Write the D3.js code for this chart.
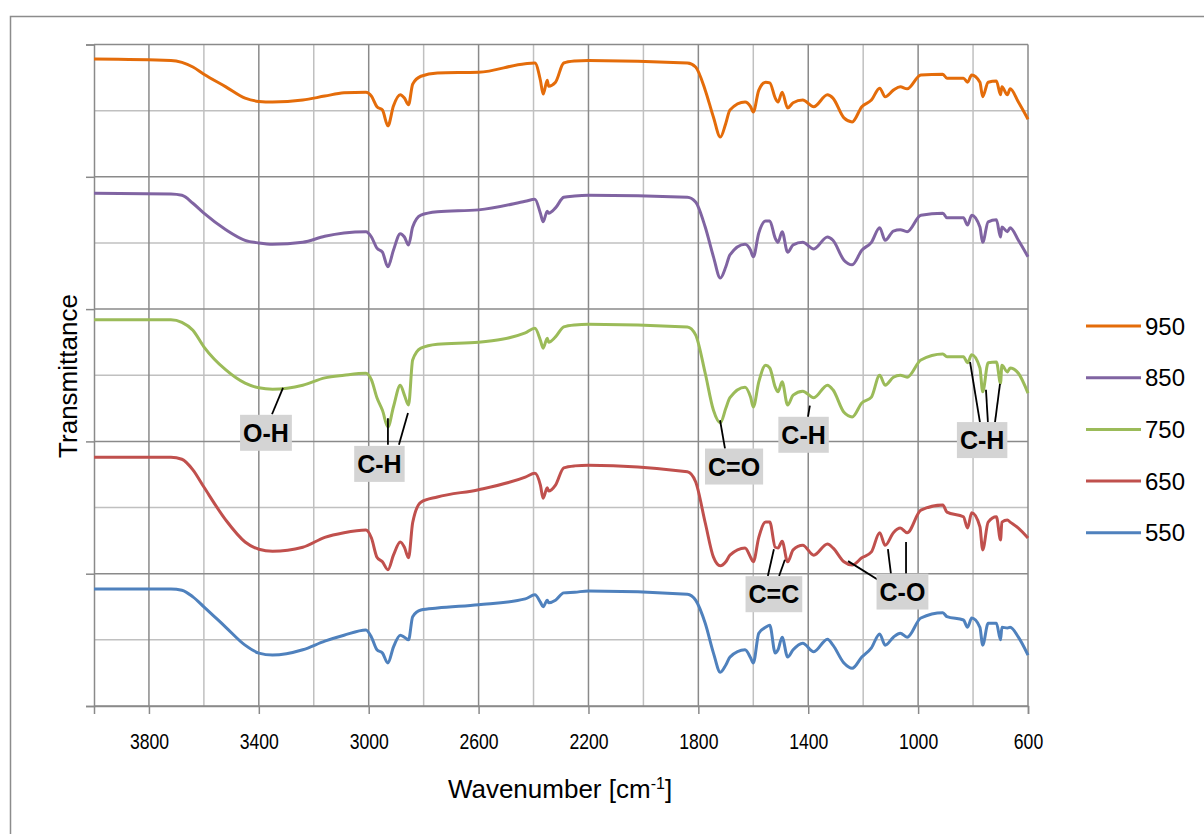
<!DOCTYPE html>
<html>
<head>
<meta charset="utf-8">
<script src="https://cdn.jsdelivr.net/npm/d3@7"></script>
<style>
  body { margin: 0; background: #fff; }
  text { font-family: "Liberation Sans", Arial, sans-serif; }
</style>
</head>
<body>
<svg id="chart" width="1204" height="834"></svg>
<script>

// wavenumbers shared by all spectra (cm-1)
var wavenumbers = [4000, 3720, 3680, 3640, 3600, 3520, 3450, 3400, 3350, 3240, 3160, 3090, 3010, 2990, 2970, 2950, 2930,
  2910, 2885, 2870, 2855, 2840, 2810, 2750, 2600, 2430, 2395, 2375, 2365, 2350, 2345, 2320, 2290, 2250, 2200,
  1840, 1810, 1775, 1745, 1720, 1700, 1685, 1630, 1610, 1600, 1580, 1555, 1540, 1520, 1510, 1495, 1475, 1455,
  1420, 1380, 1330, 1310, 1270, 1240, 1205, 1170, 1140, 1120, 1090, 1065, 1040, 990, 910, 895, 835, 820, 805,
  775, 765, 745, 715, 700, 695, 675, 665, 635, 600];

// stacked transmittance (offset per spectrum)
var t950 = [97.8, 97.6, 97.3, 96.6, 95.5, 93.6, 91.9, 91.4, 91.3, 91.6, 92.2, 92.7, 92.8, 92.2, 90.6, 90.1, 87.7,
  90.7, 92.4, 91.9, 90.9, 94.0, 95.2, 95.7, 95.8, 97.1, 97.2, 94.6, 92.5, 94.6, 93.7, 94.3, 97.2, 97.5, 97.6,
  97.2, 96.6, 93.1, 89.0, 86.0, 88.1, 90.1, 91.3, 90.6, 89.8, 93.1, 94.3, 94.2, 91.9, 91.3, 92.8, 90.4, 91.2,
  91.6, 90.6, 92.4, 91.9, 88.9, 88.3, 90.6, 91.6, 93.4, 92.1, 93.1, 93.6, 93.3, 95.4, 95.5, 94.9, 94.9, 94.3, 95.4,
  94.3, 92.1, 94.3, 94.5, 92.4, 93.6, 92.4, 93.3, 91.3, 88.7];

var t850 = [77.5, 77.4, 77.2, 76.0, 74.5, 72.0, 70.4, 70.0, 69.8, 70.1, 71.0, 71.5, 71.7, 70.9, 69.2, 68.6, 66.4,
  68.9, 71.4, 70.9, 69.7, 72.4, 74.2, 74.7, 75.0, 76.3, 76.6, 74.5, 73.2, 74.8, 74.5, 75.3, 76.9, 77.1, 77.2,
  76.9, 76.2, 72.4, 67.9, 64.7, 66.4, 68.2, 69.8, 68.9, 67.9, 71.5, 73.3, 73.3, 70.7, 70.1, 71.7, 68.6, 69.7,
  70.1, 69.1, 70.9, 70.4, 67.4, 66.7, 68.9, 70.1, 72.3, 70.4, 71.8, 72.0, 71.7, 74.2, 74.5, 73.8, 73.8, 72.7, 74.2,
  72.4, 70.1, 73.2, 73.5, 70.9, 72.4, 71.7, 72.3, 70.4, 67.9];

var t750 = [58.4, 58.4, 58.0, 56.8, 54.3, 50.8, 48.8, 48.1, 47.9, 48.5, 49.6, 50.0, 50.3, 49.3, 46.6, 44.7, 42.2,
  45.2, 48.5, 47.0, 45.5, 52.3, 54.1, 54.7, 55.0, 56.4, 57.1, 55.3, 54.1, 55.6, 55.0, 55.8, 57.3, 57.6, 57.7,
  57.3, 56.1, 50.3, 44.7, 42.8, 45.0, 46.6, 48.2, 46.7, 45.2, 49.0, 51.5, 51.1, 48.2, 47.5, 49.0, 45.5, 47.0,
  47.6, 46.6, 48.5, 47.8, 44.4, 43.7, 45.8, 46.7, 50.0, 48.5, 49.7, 50.0, 49.7, 52.3, 53.2, 52.8, 52.8, 51.9, 53.1,
  51.1, 47.5, 51.9, 52.0, 48.8, 51.5, 50.5, 51.1, 50.3, 47.3];

var t650 = [37.6, 37.6, 37.3, 35.7, 33.1, 28.1, 24.8, 23.7, 23.4, 24.0, 25.5, 26.2, 26.6, 25.4, 22.5, 21.8, 20.6,
  22.8, 24.8, 24.0, 22.4, 27.7, 30.8, 31.6, 32.7, 34.6, 35.2, 33.4, 31.4, 33.0, 32.5, 33.4, 36.0, 36.3, 36.4,
  35.4, 33.9, 27.7, 22.5, 21.2, 21.8, 22.8, 23.9, 22.5, 21.8, 25.5, 27.8, 27.8, 24.0, 23.9, 24.9, 21.8, 23.6,
  24.3, 22.8, 24.5, 23.9, 21.8, 21.3, 22.4, 23.3, 26.2, 24.3, 26.2, 26.9, 26.2, 29.6, 30.4, 29.3, 28.6, 26.9, 29.2,
  27.1, 23.6, 27.8, 28.6, 25.1, 27.8, 28.1, 27.8, 26.9, 25.4];

var t550 = [17.7, 17.7, 17.5, 16.5, 15.0, 11.9, 9.2, 8.0, 7.7, 8.5, 9.8, 10.7, 11.5, 10.4, 8.5, 8.0, 6.5,
  8.9, 10.7, 10.4, 10.0, 13.5, 14.5, 14.8, 15.3, 16.2, 16.8, 15.7, 15.0, 16.0, 15.6, 16.0, 17.1, 17.2, 17.4,
  16.9, 16.0, 12.5, 8.0, 5.1, 6.2, 7.4, 8.5, 7.3, 6.5, 11.0, 11.9, 12.2, 8.0, 8.5, 10.4, 7.4, 8.5,
  9.5, 8.2, 10.1, 9.2, 6.5, 5.7, 7.4, 8.8, 10.9, 9.2, 10.4, 11.0, 10.4, 13.3, 14.1, 13.5, 13.0, 11.9, 13.3,
  11.9, 9.2, 12.5, 12.5, 10.0, 11.9, 11.8, 11.9, 10.4, 7.7];

var seriesNames = ['950', '850', '750', '650', '550'];
var seriesValues = [t950, t850, t750, t650, t550];
var seriesColors = ['#E46C0A', '#8064A2', '#9BBB59', '#C0504D', '#4F81BD'];

var xLabelTicks = [3800, 3400, 3000, 2600, 2200, 1800, 1400, 1000, 600];
var xMinorTicks = [3600, 3200, 2800, 2400, 2000, 1600, 1200, 800];
var yMajorTicks = [0, 20, 40, 60, 80, 100];
var yMinorTicks = [10, 30, 50, 70, 90];

// band labels: box centre and leader lines, in data units
var bandLabels = [
  { text: 'O-H', w: 3374, v: 41.3, lines: [[3352, 44.1, 3312, 48.1]] },
  { text: 'C-H', w: 2961, v: 36.6, lines: [[2930, 39.5, 2930, 43.5], [2890, 39.5, 2857, 44.3]] },
  { text: 'C=O', w: 1670, v: 36.2, lines: [[1703, 38.9, 1721, 43.2]] },
  { text: 'C-H', w: 1417, v: 41.0, lines: [[1401, 43.7, 1394, 45.4]] },
  { text: 'C-H', w: 767, v: 40.2, lines: [[775, 42.9, 811, 52.0], [746, 42.9, 753, 47.8], [720, 42.9, 702, 48.7]] },
  { text: 'C=C', w: 1525, v: 16.9, lines: [[1547, 19.65, 1525, 23.7], [1506, 19.65, 1485, 22.1]] },
  { text: 'C-O', w: 1057, v: 17.3, lines: [[1139, 18.9, 1255, 21.9], [1099, 20.0, 1110, 23.7], [1044, 20.0, 1044, 24.8]] }
];

var svg = d3.select('#chart');

// outer chart frame
svg.append('rect')
  .attr('x', 10.5).attr('y', 16.5)
  .attr('width', 1400).attr('height', 1000)
  .attr('fill', 'none').attr('stroke', '#8c8c8c').attr('stroke-width', 1.5);

var x = d3.scaleLinear().domain([4000, 600]).range([94, 1028]);
var y = d3.scaleLinear().domain([0, 100]).range([706, 44.5]);

var grid = svg.append('g');
// minor grid
grid.selectAll('.vminor').data(xMinorTicks).enter().append('line')
  .attr('x1', d => x(d)).attr('x2', d => x(d))
  .attr('y1', y(0)).attr('y2', y(100))
  .attr('stroke', '#c0c0c0').attr('stroke-width', 1.5);
grid.selectAll('.hminor').data(yMinorTicks).enter().append('line')
  .attr('x1', x(4000)).attr('x2', x(600))
  .attr('y1', d => y(d)).attr('y2', d => y(d))
  .attr('stroke', '#c0c0c0').attr('stroke-width', 1.5);
// major grid
grid.selectAll('.vmajor').data(xLabelTicks).enter().append('line')
  .attr('x1', d => x(d)).attr('x2', d => x(d))
  .attr('y1', y(0)).attr('y2', y(100))
  .attr('stroke', '#8a8a8a').attr('stroke-width', 1.5);
grid.selectAll('.hmajor').data(yMajorTicks).enter().append('line')
  .attr('x1', x(4000)).attr('x2', x(600))
  .attr('y1', d => y(d)).attr('y2', d => y(d))
  .attr('stroke', '#8a8a8a').attr('stroke-width', 1.5);

// axes
var xAxis = d3.axisBottom(x).tickValues(xLabelTicks).tickSize(8).tickPadding(19).tickFormat(d3.format('d'));
var gx = svg.append('g').attr('transform', 'translate(0,' + y(0) + ')').call(xAxis);
gx.select('.domain').attr('stroke', '#8a8a8a').attr('stroke-width', 1.5);
gx.selectAll('.tick line').attr('stroke', '#8a8a8a').attr('stroke-width', 1.5);
gx.selectAll('.tick text')
  .attr('font-size', 22).attr('fill', '#000')
  .attr('font-family', '"Liberation Sans", Arial, sans-serif')
  .attr('transform', 'scale(0.8,1)');

var yAxis = d3.axisLeft(y).tickValues(yMajorTicks).tickSize(8).tickFormat('');
var gy = svg.append('g').attr('transform', 'translate(' + x(4000) + ',0)').call(yAxis);
gy.select('.domain').attr('stroke', '#8a8a8a').attr('stroke-width', 1.5);
gy.selectAll('.tick line').attr('stroke', '#8a8a8a').attr('stroke-width', 1.5);

// spectra
var line = d3.line()
  .x(d => x(d[0]))
  .y(d => y(d[1]))
  .curve(d3.curveMonotoneX);

seriesValues.forEach(function(vals, i) {
  var pts = wavenumbers.map((w, j) => [w, vals[j]]);
  svg.append('path')
    .datum(pts)
    .attr('d', line)
    .attr('fill', 'none')
    .attr('stroke', seriesColors[i])
    .attr('stroke-width', 3)
    .attr('stroke-linejoin', 'round');
});

// band labels
var lab = svg.append('g');
bandLabels.forEach(function(b) {
  b.lines.forEach(function(l) {
    lab.append('line')
      .attr('x1', x(l[0])).attr('y1', y(l[1]))
      .attr('x2', x(l[2])).attr('y2', y(l[3]))
      .attr('stroke', '#000').attr('stroke-width', 1.8);
  });
  var g = lab.append('g');
  var t = g.append('text')
    .attr('x', x(b.w)).attr('y', y(b.v))
    .attr('text-anchor', 'middle')
    .attr('dominant-baseline', 'central')
    .attr('font-family', 'Lato, "Liberation Sans", sans-serif')
    .attr('font-weight', 'bold')
    .attr('font-size', 25)
    .text(b.text);
  var bb = t.node().getBBox();
  g.insert('rect', 'text')
    .attr('x', bb.x - 3).attr('y', y(b.v) - 18)
    .attr('width', bb.width + 6).attr('height', 36)
    .attr('fill', '#d4d4d4');
});

// legend
var legend = svg.append('g');
seriesNames.forEach(function(n, i) {
  var ly = 326 + i * 51.7;
  legend.append('line')
    .attr('x1', 1086).attr('x2', 1141)
    .attr('y1', ly).attr('y2', ly)
    .attr('stroke', seriesColors[i]).attr('stroke-width', 3);
  legend.append('text')
    .attr('x', 1145).attr('y', ly)
    .attr('dominant-baseline', 'central')
    .attr('font-size', 24)
    .attr('fill', '#000')
    .text(n);
});

// axis titles
var xt = svg.append('text')
  .attr('x', 560).attr('y', 798)
  .attr('text-anchor', 'middle')
  .attr('font-size', 26)
  .attr('fill', '#000');
xt.append('tspan').text('Wavenumber [cm');
xt.append('tspan').attr('dy', -9).attr('font-size', 16).text('-1');
xt.append('tspan').attr('dy', 9).text(']');

svg.append('text')
  .attr('transform', 'translate(77,376) rotate(-90)')
  .attr('text-anchor', 'middle')
  .attr('font-size', 26)
  .attr('fill', '#000')
  .text('Transmittance');

</script>
</body>
</html>
